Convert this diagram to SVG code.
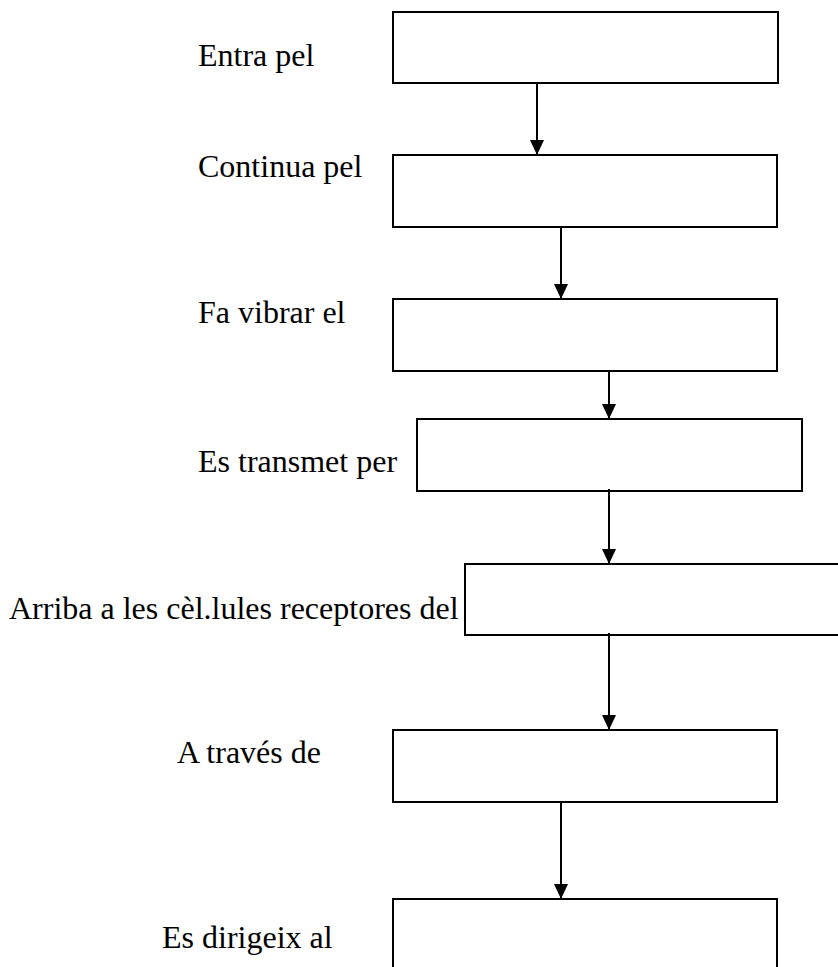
<svg xmlns="http://www.w3.org/2000/svg" width="838" height="967" viewBox="0 0 838 967">
<style>
.box{fill:#fff;stroke:#000;stroke-width:2}
.lbl{font-family:"Liberation Serif","Times New Roman",serif;font-size:32px;fill:#000}
.con{stroke:#000;stroke-width:2;fill:none;marker-end:url(#ah)}
</style>
<defs>
<marker id="ah" markerUnits="userSpaceOnUse" markerWidth="16" markerHeight="16" viewBox="0 0 16 16" refX="15" refY="8" orient="auto">
<path d="M0,1 L15,8 L0,15 Z" fill="#000"/>
</marker>
</defs>
<rect width="838" height="967" fill="#fff"/>
<g id="n1"><rect class="box" x="393" y="12" width="385" height="71"/><text class="lbl" x="198" y="66">Entra pel</text></g>
<g id="n2"><rect class="box" x="393" y="155" width="384" height="72"/><text class="lbl" x="198" y="177">Continua pel</text></g>
<g id="n3"><rect class="box" x="393" y="299" width="384" height="72"/><text class="lbl" x="198" y="323">Fa vibrar el</text></g>
<g id="n4"><rect class="box" x="417" y="419" width="385" height="72"/><text class="lbl" x="198" y="472">Es transmet per</text></g>
<g id="n5"><rect class="box" x="465" y="564" width="385" height="71"/><text class="lbl" x="9" y="619">Arriba a les cèl.lules receptores del</text></g>
<g id="n6"><rect class="box" x="393" y="730" width="384" height="72"/><text class="lbl" x="177" y="763">A través de</text></g>
<g id="n7"><rect class="box" x="393" y="899" width="384" height="80"/><text class="lbl" x="162" y="948">Es dirigeix al</text></g>
<g id="connectors">
<line class="con" x1="537" y1="83" x2="537" y2="155"/>
<line class="con" x1="561" y1="227" x2="561" y2="299"/>
<line class="con" x1="609" y1="371" x2="609" y2="419"/>
<line class="con" x1="609" y1="489" x2="609" y2="564"/>
<line class="con" x1="609" y1="633" x2="609" y2="730"/>
<line class="con" x1="561" y1="802" x2="561" y2="899"/>
</g>
</svg>
